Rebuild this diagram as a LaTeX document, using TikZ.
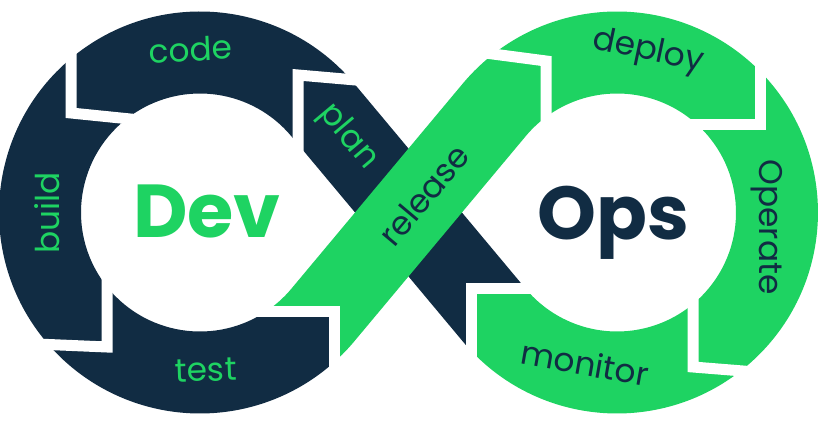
\documentclass[tikz,border=0pt]{standalone}
\usepackage{fontspec}
\setmainfont{Poppins}
\usepackage{xcolor}
\usetikzlibrary{calc}
\definecolor{devnavy}{RGB}{17,44,67}
\definecolor{opsgreen}{RGB}{30,211,98}

\begin{document}
\begin{tikzpicture}[
  x=0.03cm, y=0.03cm,
  dark/.style={fill=devnavy},
  light/.style={fill=opsgreen},
  gap/.style={draw=white, line width=0.33cm, line join=miter},
  devlabel/.style={text=opsgreen, font=\fontsize{28}{30}\selectfont},
  opslabel/.style={text=devnavy, font=\fontsize{28}{30}\selectfont},
  big/.style={font=\bfseries\fontsize{64}{70}\selectfont, anchor=base}
]
\useasboundingbox (0,0) rectangle (828,425);
\fill[white] (0,0) rectangle (828,425);

% centres of the two rings
\coordinate (C1) at (200,212.5);
\coordinate (C2) at (617,212.5);
% where the straight bands leave the rings
\coordinate (Ao) at ($(C1)+(39.9:201)$);
\coordinate (Ai) at ($(C1)+(39.9:119)$);
\coordinate (Eo) at ($(C1)+(-39.9:201)$);
\coordinate (Ei) at ($(C1)+(-39.9:119)$);
\coordinate (Bo) at ($(C2)+(219.9:201)$);
\coordinate (Bi) at ($(C2)+(219.9:119)$);
\coordinate (Fo) at ($(C2)+(140.1:201)$);
\coordinate (Fi) at ($(C2)+(140.1:119)$);
% test/release and monitor/plan joints
\coordinate (Ta) at (334,113);
\coordinate (Tb) at (334,62.68);
\coordinate (Tc) at (265.27,113);
\coordinate (Ma) at (471,136.18);
\coordinate (Mb) at (471,74.35);

% dark half: plan band and left ring
\path[dark] (Ma) -- (Bi) -- (Ao)
  arc[start angle=39.9, end angle=311.81, radius=201] -- (Ta) -- (Tc)
  arc[start angle=303.27, end angle=39.9, radius=119] -- (Bo)
  arc[start angle=219.9, end angle=223.42, radius=201] -- cycle;

% green half: release band and right ring
\path[light] (Ta) -- (Tb)
  arc[start angle=311.81, end angle=320.1, radius=201] -- (Fi)
  arc[start angle=140.1, end angle=-140.1, radius=119] -- (Ma) -- (Mb)
  arc[start angle=-136.58, end angle=140.1, radius=201] -- (Ei)
  arc[start angle=320.1, end angle=303.27, radius=119] -- cycle;

% white cuts between the steps
\draw[gap] (298,250) -- (298,350) -- (390,342);
\draw[gap] (71,440) -- (71,312) -- (140,305);
\draw[gap] (107,150) -- (107,78) -- (-10,83);
\draw[gap] (334,40) -- (Ta) -- (250,113);
\draw[gap] (470,374) -- (546,364) -- (546,290);
\draw[gap] (760,440) -- (760,300) -- (690,300);
\draw[gap] (693,150) -- (693,58) -- (830,47);
\draw[gap] (471,50) -- (Ma) -- (545,136.18);

% step labels
\node[devlabel, rotate=3] (code) at (191,376) {code};
\node[devlabel, rotate=90] (build) at (47,212) {build};
\node[devlabel, rotate=2] (test) at (206,55) {test};
\node[devlabel, rotate=-50] (plan) at (348,288) {plan};
\node[opslabel, rotate=50] (release) at (424,230) {release};
\node[opslabel, rotate=-12] (deploy) at (648,373) {deploy};
\node[opslabel, rotate=-90] (operate) at (767,198) {Operate};
\node[opslabel, rotate=-10] (monitor) at (585,62) {monitor};

% centre words
\node[big, text=opsgreen] (dev) at (207,187) {Dev};
\node[big, text=devnavy] (ops) at (613.5,185) {Ops};
\end{tikzpicture}
\end{document}
